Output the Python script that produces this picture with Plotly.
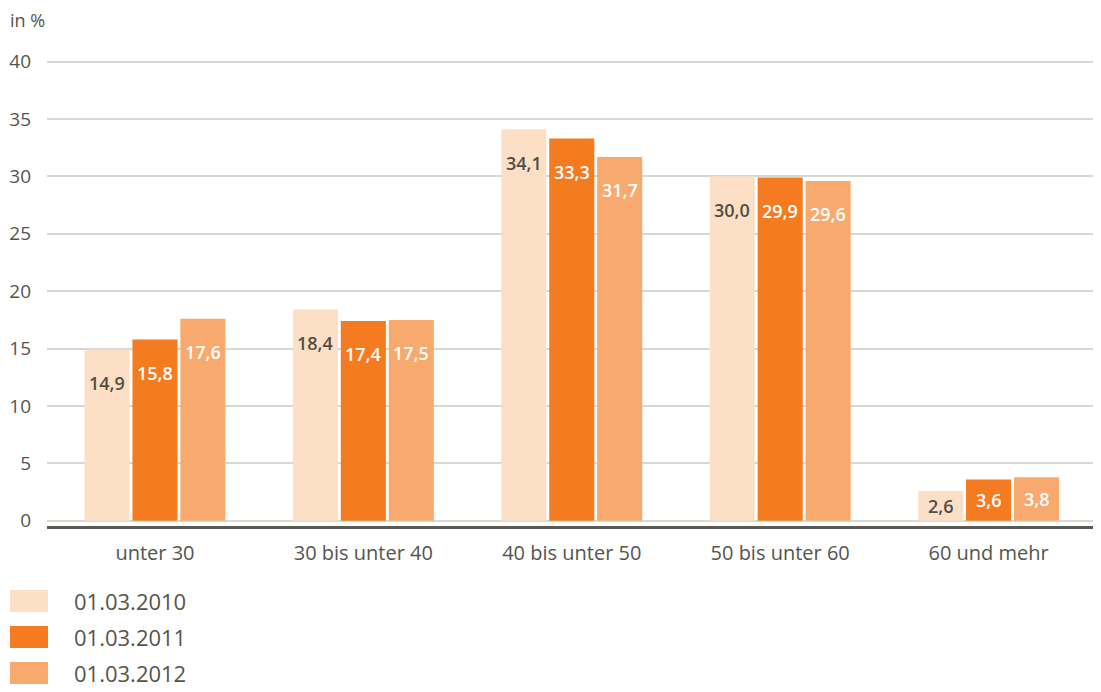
import plotly.graph_objects as go

categories = ["unter 30", "30 bis unter 40", "40 bis unter 50", "50 bis unter 60", "60 und mehr"]
series_names = ["01.03.2010", "01.03.2011", "01.03.2012"]
values_2010 = [14.9, 18.4, 34.1, 30.0, 2.6]
values_2011 = [15.8, 17.4, 33.3, 29.9, 3.6]
values_2012 = [17.6, 17.5, 31.7, 29.6, 3.8]
y_ticks = [0, 5, 10, 15, 20, 25, 30, 35, 40]

colors = ["#FDDFC6", "#F47B20", "#F8A96E"]
label_colors = ["#4F4F47", "#FFFFFF", "#FFFFFF"]
grey = "#55554D"
font = "Open Sans"

# the page body adds an 8px margin, so the figure is a bit smaller than the window
OFF = 8
W, H = 1101 - OFF, 692 - OFF
margin = dict(l=47 - OFF, r=3, t=57 - OFF, b=166)
bargap = 0.31
x_range = [-0.518, 4.525]

fig = go.Figure()
all_values = [values_2010, values_2011, values_2012]
for name, vals, col in zip(series_names, all_values, colors):
    fig.add_trace(go.Bar(x=categories, y=vals, name=name, marker_color=col,
                         marker_line_width=0, showlegend=False))

plot_w = W - margin["l"] - margin["r"]
plot_h = H - margin["t"] - margin["b"]


def px_x(x):
    # page pixel -> paper x
    return (x - OFF - margin["l"]) / plot_w


def px_y(y):
    # page pixel -> paper y
    return (H - margin["b"] - (y - OFF)) / plot_h


# value labels inside the bars
cat_px = plot_w / (x_range[1] - x_range[0])
bar_slot = cat_px * (1 - bargap) / 3
for i, vals in enumerate(all_values):
    for cat, v in zip(categories, vals):
        fig.add_annotation(
            x=cat, y=max(v - 2.9, v / 2), text=f"{v:.1f}".replace(".", ","),
            showarrow=False, xshift=(i - 1) * bar_slot, yanchor="middle",
            font=dict(family=font, size=18, color=label_colors[i], weight=600),
        )

# legend drawn by hand to get the large swatches
for i, (name, col) in enumerate(zip(series_names, colors)):
    yc = 601 + i * 36
    fig.add_shape(type="rect", xref="paper", yref="paper",
                  x0=px_x(10), x1=px_x(48), y0=px_y(yc + 11), y1=px_y(yc - 11),
                  fillcolor=col, line_width=0)
    fig.add_annotation(xref="paper", yref="paper", x=px_x(72), y=px_y(yc),
                       text=name, showarrow=False, xanchor="left", yanchor="middle",
                       font=dict(family=font, size=22, color=grey))

fig.add_annotation(xref="paper", yref="paper", x=px_x(8), y=px_y(20),
                   text="in %", showarrow=False, xanchor="left", yanchor="middle",
                   font=dict(family=font, size=18, color=grey))

fig.update_layout(
    width=W, height=H, margin=margin,
    barmode="group", bargap=bargap, bargroupgap=0.06,
    plot_bgcolor="white", paper_bgcolor="white",
    font=dict(family=font, color=grey),
)
fig.update_xaxes(
    automargin=False, range=x_range,
    showline=True, linecolor="#5A5A52", linewidth=3,
    tickfont=dict(family=font, size=20, color=grey),
    ticks="", ticklabelstandoff=7,
)
fig.update_yaxes(
    automargin=False,
    range=[-0.45, 40.4], tickvals=y_ticks, showgrid=True, gridcolor="#D9D9D4",
    gridwidth=1.5, zeroline=True, zerolinecolor="#D9D9D4",
    tickfont=dict(family=font, size=19, color=grey), ticklabelstandoff=15,
)

fig.write_html("out.html")
